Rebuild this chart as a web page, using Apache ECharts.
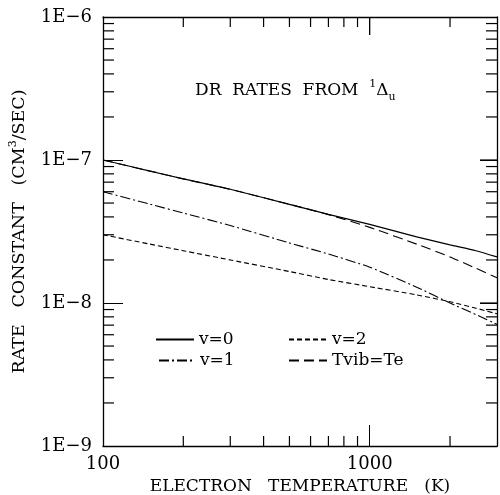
<!DOCTYPE html>
<html>
<head>
<meta charset="utf-8">
<script src="https://cdn.jsdelivr.net/npm/echarts@6/dist/echarts.min.js"></script>
<style>html,body{margin:0;padding:0;background:#fff}#c{width:500px;height:495px}</style>
</head>
<body>
<div id="c"></div>
<script>
const temps = [100, 150, 200, 300, 500, 700, 1000, 1500, 2000, 2500, 3000];
const v0 = [1.0e-7, 8.37e-8, 7.38e-8, 6.24e-8, 4.9e-8, 4.17e-8, 3.55e-8, 2.9e-8, 2.55e-8, 2.32e-8, 2.1e-8];
const v1 = [6.0e-8, 4.91e-8, 4.26e-8, 3.48e-8, 2.63e-8, 2.2e-8, 1.78e-8, 1.29e-8, 1.0e-8, 8.3e-9, 7.1e-9];
const v2 = [3.0e-8, 2.58e-8, 2.32e-8, 2.0e-8, 1.66e-8, 1.46e-8, 1.30e-8, 1.14e-8, 1.02e-8, 9.2e-9, 8.4e-9];
const tvib = [1.0e-7, 8.37e-8, 7.38e-8, 6.24e-8, 4.9e-8, 4.15e-8, 3.38e-8, 2.58e-8, 2.1e-8, 1.75e-8, 1.5e-8];
const xRange = [100, 3000];
const yRange = [1e-9, 1e-6];
const xTickValues = [100, 1000];
const xTickLabels = ['100', '1000'];
const yTickValues = [1e-9, 1e-8, 1e-7, 1e-6];
const yTickLabels = ['1E\u22129', '1E\u22128', '1E\u22127', '1E\u22126'];
const xMinorValues = [200, 300, 400, 500, 600, 700, 800, 900, 2000];
const yMinorValues = [2e-9,3e-9,4e-9,5e-9,6e-9,7e-9,8e-9,9e-9,2e-8,3e-8,4e-8,5e-8,6e-8,7e-8,8e-8,9e-8,2e-7,3e-7,4e-7,5e-7,6e-7,7e-7,8e-7,9e-7];
const xMajorTop = [1000];
const yMajorRight = [1e-8, 1e-7];

const FONT = 'DejaVu Serif';
const pair = arr => temps.map((t, i) => [t, arr[i]]);
function lblIdx(vals, v) {
  for (let i = 0; i < vals.length; i++) if (Math.abs(Math.log10(v) - Math.log10(vals[i])) < 1e-6) return i;
  return -1;
}
const axisLineStyle = {show: true, lineStyle: {color: '#000', width: 1.3}};
// tick marks drawn as thin rectangle symbols anchored on the frame
function tickSeries(name, data, size, offset) {
  return {
    name: name, type: 'scatter', xAxisIndex: 0, yAxisIndex: 0, silent: true, clip: false,
    symbol: 'rect', symbolSize: size, symbolOffset: offset, z: 5,
    itemStyle: {color: '#000', opacity: 1}, emphasis: {disabled: true},
    data: data
  };
}

const chart = echarts.init(document.getElementById('c'), null, {renderer: 'canvas'});
const legendBase = {
  orient: 'horizontal', itemWidth: 38, itemHeight: 12, padding: 0, itemGap: 0,
  selectedMode: false,
  itemStyle: {opacity: 0, borderWidth: 0},
  textStyle: {fontFamily: FONT, fontSize: 17, color: '#000'}
};
const option = {
  backgroundColor: '#fff',
  animation: false,
  title: {
    text: '{a|DR  RATES  FROM  }{s|1}{a|\u0394}{b|u}',
    left: 190, top: 74,
    textStyle: {
      fontWeight: 'normal',
      rich: {
        a: {fontFamily: FONT, fontSize: 17, fontWeight: 'normal', color: '#000', lineHeight: 24},
        s: {fontFamily: FONT, fontSize: 11, fontWeight: 'normal', color: '#000', verticalAlign: 'top'},
        b: {fontFamily: FONT, fontSize: 11, fontWeight: 'normal', color: '#000', verticalAlign: 'bottom'}
      }
    }
  },
  grid: {left: 103, right: 3, top: 17, bottom: 49, containLabel: false, outerBoundsMode: 'none'},
  xAxis: [
    {
      type: 'log', position: 'bottom', min: xRange[0], max: xRange[1],
      axisLine: axisLineStyle,
      axisTick: {show: true, inside: true, length: 21, lineStyle: {color: '#000', width: 1}},
      splitLine: {show: false},
      axisLabel: {
        margin: 9, fontFamily: FONT, fontSize: 18, color: '#000',
        formatter: v => { const i = lblIdx(xTickValues, v); return i < 0 ? '' : xTickLabels[i]; }
      },
      name: 'ELECTRON   TEMPERATURE   (K)', nameLocation: 'middle', nameGap: 25,
      nameTextStyle: {fontFamily: FONT, fontSize: 17, color: '#000'}
    },
    {
      type: 'log', position: 'top', min: xRange[0], max: xRange[1],
      axisLine: axisLineStyle,
      axisTick: {show: true, inside: true, length: 18, lineStyle: {color: '#000', width: 1}},
      splitLine: {show: false},
      axisLabel: {show: true, formatter: () => ''}
    }
  ],
  yAxis: [
    {
      type: 'log', position: 'left', min: yRange[0], max: yRange[1],
      axisLine: axisLineStyle,
      axisTick: {show: true, inside: true, length: 20, lineStyle: {color: '#000', width: 1}},
      splitLine: {show: false},
      axisLabel: {
        margin: 11, fontFamily: FONT, fontSize: 18, color: '#000',
        formatter: v => { const i = lblIdx(yTickValues, v); return i < 0 ? '' : yTickLabels[i]; }
      },
      name: 'RATE   CONSTANT   (CM{s|3}/SEC)', nameLocation: 'middle', nameGap: 70, nameRotate: 90,
      nameTextStyle: {
        fontFamily: FONT, fontSize: 17.5, color: '#000', lineHeight: 22,
        rich: {s: {fontFamily: FONT, fontSize: 11, color: '#000', verticalAlign: 'top'}}
      }
    },
    {
      type: 'log', position: 'right', min: yRange[0], max: yRange[1],
      axisLine: axisLineStyle,
      axisTick: {show: true, inside: true, length: 17, lineStyle: {color: '#000', width: 1}},
      splitLine: {show: false},
      axisLabel: {show: true, formatter: () => ''}
    }
  ],
  legend: [
    Object.assign({}, legendBase, {data: ['v=0'], left: 155, top: 331}),
    Object.assign({}, legendBase, {data: ['v=2'], left: 288, top: 331}),
    Object.assign({}, legendBase, {data: ['v=1'], left: 158, top: 352, itemWidth: 36}),
    Object.assign({}, legendBase, {data: ['Tvib=Te'], left: 288, top: 352})
  ],
  series: [
    {name: 'v=0', type: 'line', data: pair(v0), xAxisIndex: 0, yAxisIndex: 0, showSymbol: false, symbol: 'none', smooth: 0.2,
     lineStyle: {color: '#000', width: 1.2, type: 'solid'}, itemStyle: {color: '#000'}},
    {name: 'v=1', type: 'line', data: pair(v1), xAxisIndex: 0, yAxisIndex: 0, showSymbol: false, symbol: 'none', smooth: 0.2,
     lineStyle: {color: '#000', width: 1.1, type: [10, 3, 2, 3]}, itemStyle: {color: '#000'}},
    {name: 'v=2', type: 'line', data: pair(v2), xAxisIndex: 1, yAxisIndex: 1, showSymbol: false, symbol: 'none', smooth: 0.2,
     lineStyle: {color: '#000', width: 1.1, type: [5, 3]}, itemStyle: {color: '#000'}},
    {name: 'Tvib=Te', type: 'line', data: pair(tvib), xAxisIndex: 0, yAxisIndex: 0, showSymbol: false, symbol: 'none', smooth: 0.2,
     lineStyle: {color: '#000', width: 1.1, type: [10, 5]}, itemStyle: {color: '#000'}},
    tickSeries('tickBottom', xMinorValues.map(v => [v, yRange[0]]), [1.2, 10], [0, -5]),
    tickSeries('tickTop', xMinorValues.map(v => [v, yRange[1]]), [1.2, 10], [0, 5]),
    tickSeries('tickLeft', yMinorValues.map(v => [xRange[0], v]), [11, 1.2], [5.5, 0]),
    tickSeries('tickRight', yMinorValues.map(v => [xRange[1], v]), [11, 1.2], [-5.5, 0]),
    tickSeries('tickTopMajor', xMajorTop.map(v => [v, yRange[1]]), [1.2, 18], [0, 9]),
    tickSeries('tickRightMajor', yMajorRight.map(v => [xRange[1], v]), [17, 1.2], [-8.5, 0])
  ]
};
chart.setOption(option);
</script>
</body>
</html>
